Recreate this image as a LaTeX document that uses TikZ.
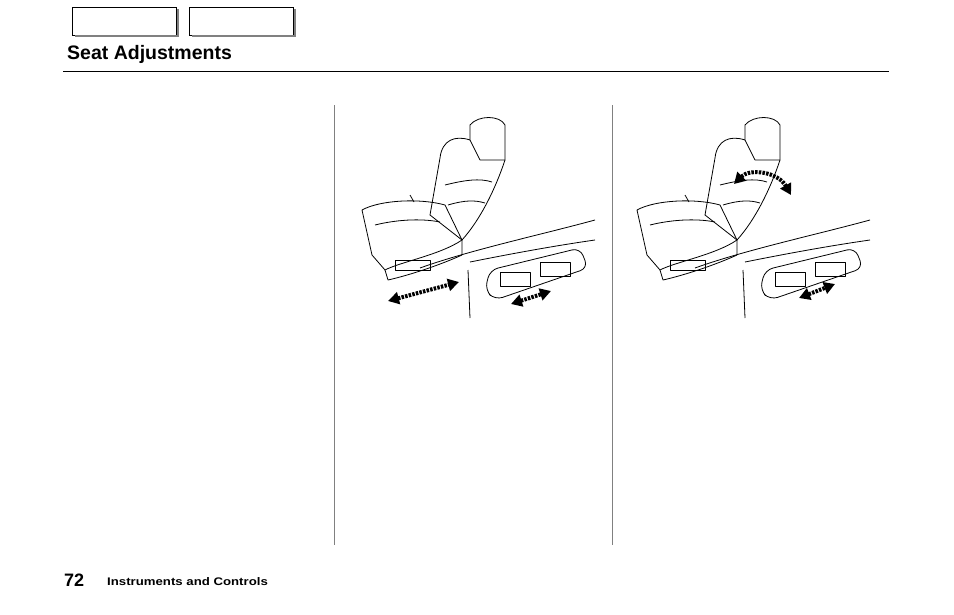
\documentclass[tikz,border=0pt]{standalone}
\usepackage{fontspec}
\setmainfont{Liberation Sans}
\usetikzlibrary{arrows.meta}
\begin{document}
\begin{tikzpicture}[x=1pt,y=-1pt,
  tab/.style={draw,line width=0.8pt},
  ln/.style={line width=0.6pt},
  arr/.style={line width=4pt,dash pattern=on 2.5pt off 1.2pt,{Triangle[length=11pt,width=12pt]}-{Triangle[length=11pt,width=12pt]}},
  seat/.style={line width=0.8pt,line join=round}]
\useasboundingbox (0,0) rectangle (954,614);
% tabs
\node[tab,minimum width=104pt,minimum height=28pt,anchor=north west] (t1) at (72,7) {};
\node[tab,minimum width=104pt,minimum height=28pt,anchor=north west] (t2) at (189,7) {};
\draw[line width=1.5pt,gray] (t1.north east)++(1,2) -- ++(0,27) -- ++(-103,0);
\draw[line width=1.5pt,gray] (t2.north east)++(1,2) -- ++(0,27) -- ++(-103,0);
\node[anchor=west,font=\bfseries\fontsize{19.5}{22}\selectfont,inner sep=0pt] (title) at (67,54) {Seat Adjustments};
\draw[ln] (63,71) -- (889,71);
\draw[ln,gray] (334,105) -- (334,545);
\draw[ln,gray] (612,105) -- (612,545);
\node[anchor=west,font=\bfseries\fontsize{18}{20}\selectfont,inner sep=0pt] (pg) at (64,580) {72};
\node[anchor=west,font=\bfseries\fontsize{11}{12}\selectfont,inner sep=0pt,xscale=1.2] (sec) at (107,582) {Instruments and Controls};
\foreach \ox in {0,275}{
\begin{scope}[shift={(\ox,0)}]
 % door panel
 \draw[seat] (420,268) .. controls (470,250) and (540,235) .. (595,220);
 \draw[seat] (468,270) -- (470,318);
 \draw[seat] (470,262) .. controls (520,252) and (560,245) .. (595,240);
 % cushion
 \draw[seat] (362,210) .. controls (380,200) and (420,198) .. (445,205)
   -- (462,240) .. controls (440,255) and (400,262) .. (385,270) -- (372,255) -- cycle;
 \draw[seat] (385,270) -- (388,280) .. controls (410,275) and (440,265) .. (462,255) -- (462,240);
 \draw[seat] (395,260) rectangle (430,270);
 \draw[seat] (375,225) .. controls (395,220) and (420,218) .. (440,222);
 % backrest
 \draw[seat] (430,215) -- (440,158) .. controls (442,140) and (455,135) .. (470,140)
   -- (470,125) .. controls (478,115) and (500,115) .. (505,125) -- (505,160)
   .. controls (495,190) and (480,220) .. (462,240) -- cycle;
 \draw[seat] (470,140) -- (480,160) -- (505,160);
 \draw[seat] (445,185) .. controls (465,180) and (480,178) .. (492,182);
 \draw[seat] (448,205) .. controls (465,200) and (475,200) .. (485,203);
 \draw[seat] (410,195) -- (414,202);
 % control panel
 \draw[seat,rounded corners=8pt] (485,290) -- (490,270) -- (580,248) -- (588,268) -- (495,300) -- cycle;
 \draw[seat] (500,272) rectangle (530,286);
 \draw[seat] (540,262) rectangle (570,276);
\end{scope}}
% arrows
\draw[arr] (388,301) -- (459,282);
\draw[arr] (511,304) -- (551,291);
\draw[arr] (734,184) .. controls (750,168) and (778,172) .. (791,195);
\draw[arr] (799,298) -- (835,284);
\end{tikzpicture}
\end{document}
